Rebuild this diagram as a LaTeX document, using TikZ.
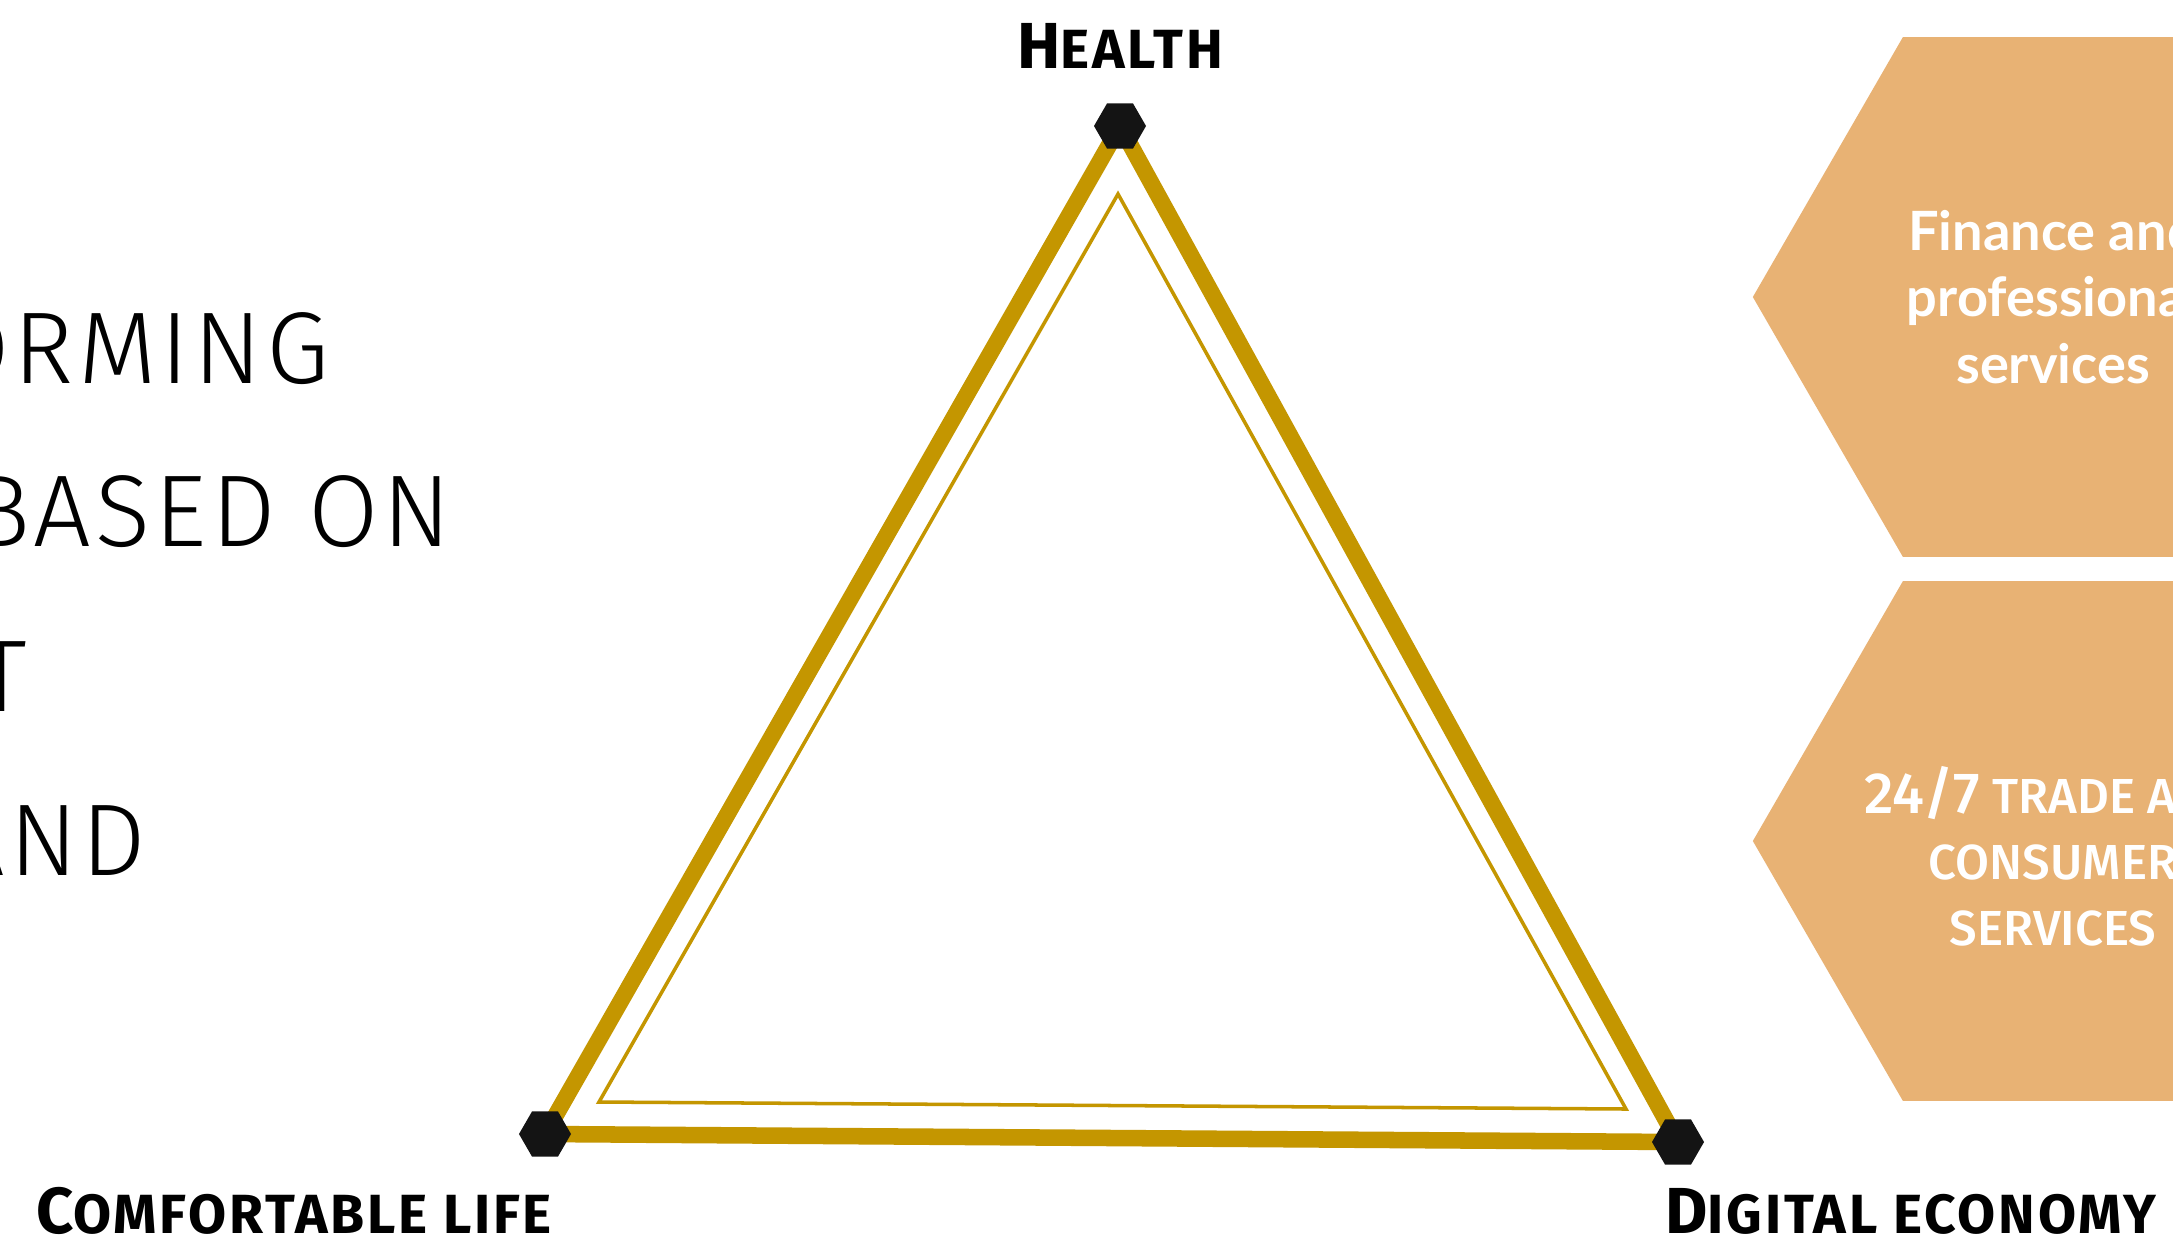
\documentclass[tikz,border=0pt]{standalone}
\usepackage{fontspec}
\setmainfont{Fira Sans}
\newfontfamily\thinfont{Fira Sans Light}[LetterSpace=4]
\newfontfamily\labfont{Fira Sans}[LetterSpace=5]
\newfontfamily\tradefont{Fira Sans Medium}
\newfontfamily\finfont{Lato}
\usetikzlibrary{shapes.geometric,positioning}
\definecolor{goldLine}{RGB}{196,150,0}
\definecolor{hexFill}{RGB}{232,178,116}
\definecolor{markBlack}{RGB}{20,20,20}
\newcommand{\capsc}[2]{{\fontsize{18.5}{22}\selectfont#1}{\fontsize{15.7}{22}\selectfont#2}}

\begin{document}
\begin{tikzpicture}[x=0.01cm,y=-0.01cm,
    marker/.style={regular polygon,regular polygon sides=6,fill=markBlack,minimum size=0.52cm,inner sep=0pt},
    hexcell/.style={regular polygon,regular polygon sides=6,fill=hexFill,minimum size=6cm,inner sep=0pt},
    corner/.style={anchor=base,inner sep=0pt,font=\labfont\bfseries},
    thinword/.style={anchor=base east,inner sep=0pt,font=\thinfont\fontsize{29}{30}\selectfont}]
  \useasboundingbox (0,0) rectangle (2173,1242);
  \fill[white] (0,0) rectangle (2173,1242);
  \clip (0,0) rectangle (2173,1242);
  \foreach \w/\xr/\yb [count=\i] in {ORMING/330/383,BASED ON/452/546,T/28/711,AND/147/875}
    \node[thinword] (word\i) at (\xr,\yb) {\w};
  \coordinate (h) at (1120,126);
  \coordinate (c) at (545,1134);
  \coordinate (d) at (1678,1142);
  \coordinate (hi) at (1118,194);
  \coordinate (ci) at (599,1102);
  \coordinate (di) at (1626,1109);
  \draw[goldLine,line width=4.7pt,line join=round] (h) -- (c) -- (d) -- cycle;
  \draw[goldLine,line width=1pt] (hi) -- (ci) -- (di) -- cycle;
  \node[marker] (health) at (h) {};
  \node[marker] (comfort) at (c) {};
  \node[marker] (digital) at (d) {};
  \node[corner] (healthlab) at (1120,68) {\capsc{H}{EALTH}};
  \node[corner] (comfortlab) at (294,1233) {\capsc{C}{OMFORTABLE LIFE}};
  \node[corner] (digitallab) at (1911,1233) {\capsc{D}{IGITAL ECONOMY}};
  \node[hexcell,text=white,align=center,font=\finfont\bfseries\fontsize{15.4}{19}\selectfont] (fin) at (2053,297) {Finance and\\professional\\services};
  \node[hexcell] (trade) at (2053,841) {};
  \node[text=white,align=center,font=\tradefont\fontsize{14}{18.8}\selectfont] (tradetext) at ([yshift=-0.15cm]trade.center) {{\fontsize{16.5}{18.8}\selectfont 24/7} TRADE AND\\CONSUMER\\SERVICES};
\end{tikzpicture}
\end{document}
